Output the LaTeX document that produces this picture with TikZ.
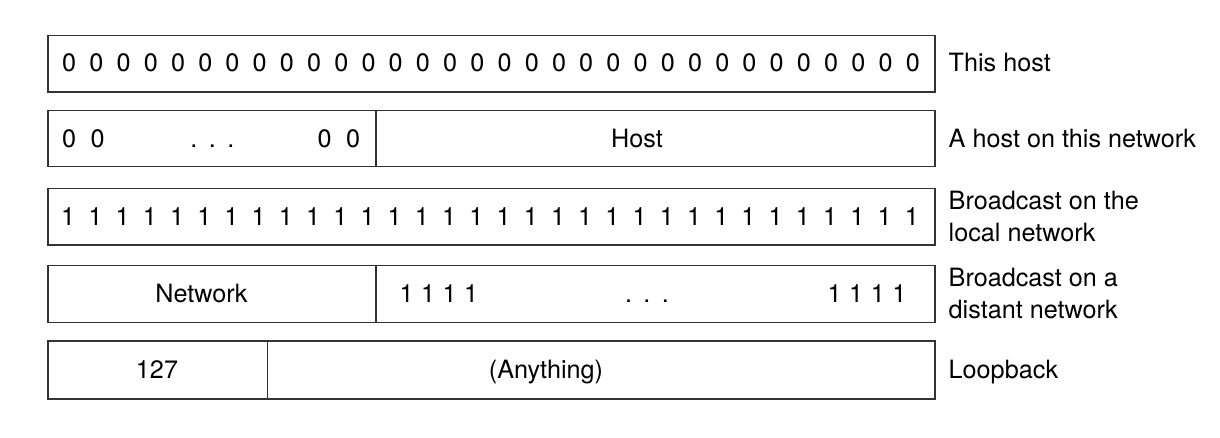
\documentclass[tikz,border=0pt]{standalone}
\usepackage{fontspec}
\setmainfont{TeX Gyre Heros}
\newcommand\zg{\hspace{13.2pt}}
\newcommand\pg{\hspace{14.5pt}}
\newcommand\dg{\hspace{11.5pt}}
\newcommand\og{\hspace{7.5pt}}
\begin{document}
\begin{tikzpicture}[x=1pt,y=-1pt,
  field/.style={draw=black!80,line width=1.3pt},
  txt/.style={inner sep=0pt,anchor=base,font=\fontsize{25.2}{32}\selectfont},
  lbl/.style={inner sep=0pt,anchor=base west,font=\fontsize{25.2}{32}\selectfont}]
\useasboundingbox[fill=white] (0,0) rectangle (1220,438);
% boxes
\draw[field] (48,35.5) rectangle (935,92);
\draw[field] (48,110.5) rectangle (935,166.5);
\draw[field] (376,110.5) -- (376,166.5);
\draw[field] (48,188.5) rectangle (935,245);
\draw[field] (48,265.5) rectangle (935,322.5);
\draw[field] (376,265.5) -- (376,322.5);
\draw[field] (48,341) rectangle (935,399);
\draw[field] (267.5,341) -- (267.5,399);
% row 1
\node[txt] (zeros) at (491,72) {0\zg0\zg0\zg0\zg0\zg0\zg0\zg0\zg0\zg0\zg0\zg0\zg0\zg0\zg0\zg0\zg0\zg0\zg0\zg0\zg0\zg0\zg0\zg0\zg0\zg0\zg0\zg0\zg0\zg0\zg0\zg0};
% row 2
\node[txt] (z2a) at (83.5,147.5) {0\pg0};
\node[txt] (d2) at (212.3,147.5) {.\dg.\dg.};
\node[txt] (z2b) at (339,147.5) {0\pg0};
\node[txt] (host) at (637,147.5) {Host};
% row 3
\node[txt] (ones) at (490,225.5) {1\zg1\zg1\zg1\zg1\zg1\zg1\zg1\zg1\zg1\zg1\zg1\zg1\zg1\zg1\zg1\zg1\zg1\zg1\zg1\zg1\zg1\zg1\zg1\zg1\zg1\zg1\zg1\zg1\zg1\zg1\zg1};
% row 4
\node[txt] (net) at (201.5,302.8) {Network};
\node[txt] (o4a) at (439,302.8) {1\og1\og1\og1};
\node[txt] (d4) at (647,302.8) {.\dg.\dg.};
\node[txt] (o4b) at (867,302.8) {1\og1\og1\og1};
% row 5
\node[txt] (lo) at (157,378.8) {127};
\node[txt] (any) at (546,378.8) {(Anything)};
% labels
\node[lbl] (l1) at (948.5,72) {This host};
\node[lbl] (l2) at (948.5,147.5) {A host on this network};
\node[lbl] (l3a) at (948.5,209.2) {Broadcast on the};
\node[lbl] (l3b) at (948.5,241.5) {local network};
\node[lbl] (l4a) at (948.5,286.8) {Broadcast on a};
\node[lbl] (l4b) at (948.5,318.8) {distant network};
\node[lbl] (l5) at (948.5,378.8) {Loopback};
\end{tikzpicture}
\end{document}
